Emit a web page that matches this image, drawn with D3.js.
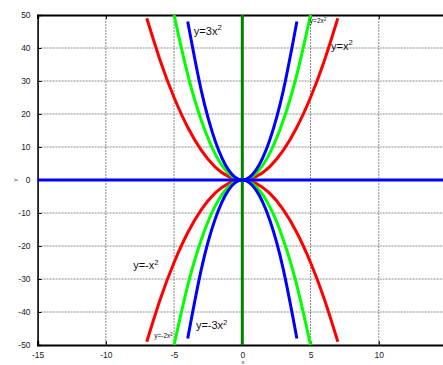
<!DOCTYPE html>
<html><head><meta charset="utf-8">
<script src="https://cdn.jsdelivr.net/npm/d3@7"></script>
<style>body{margin:0;background:#fff;}svg{display:block;}</style>
</head><body>
<svg id="c" width="443" height="365"></svg>
<script>
// ---- data ----
const xTicks = [-15, -10, -5, 0, 5, 10];
const yTicks = [-50, -40, -30, -20, -10, 0, 10, 20, 30, 40, 50];

const xRed   = [-7, -6, -5, -4, -3, -2, -1, 0, 1, 2, 3, 4, 5, 6, 7];
const yRedUp = [49, 36, 25, 16, 9, 4, 1, 0, 1, 4, 9, 16, 25, 36, 49];
const yRedDn = [-49, -36, -25, -16, -9, -4, -1, 0, -1, -4, -9, -16, -25, -36, -49];

const xGreen   = [-5, -4, -3, -2, -1, 0, 1, 2, 3, 4, 5];
const yGreenUp = [50, 32, 18, 8, 2, 0, 2, 8, 18, 32, 50];
const yGreenDn = [-50, -32, -18, -8, -2, 0, -2, -8, -18, -32, -50];

const xBlue   = [-4, -3, -2, -1, 0, 1, 2, 3, 4];
const yBlueUp = [48, 27, 12, 3, 0, 3, 12, 27, 48];
const yBlueDn = [-48, -27, -12, -3, 0, -3, -12, -27, -48];

const xAxisLineX = [-15, 15];
const xAxisLineY = [0, 0];
const yAxisLineX = [0, 0];
const yAxisLineY = [-50, 50];

const labels = [
  {t: "y=3x", sup: "2", x: -3.55, y: 44.0, size: 11},
  {t: "y=2x", sup: "2", x: 4.95, y: 47.5, size: 6.5},
  {t: "y=x",  sup: "2", x: 6.5,  y: 39.5, size: 11},
  {t: "y=-x", sup: "2", x: -8.0, y: -27.0, size: 11},
  {t: "y=-2x", sup: "2", x: -6.45, y: -48.0, size: 6.5},
  {t: "y=-3x", sup: "2", x: -3.4, y: -45.3, size: 11}
];

// ---- chart ----
const svg = d3.select("#c");
const x = d3.scaleLinear().domain([-15, 15]).range([37.6, 447]);
const y = d3.scaleLinear().domain([-50, 50]).range([345, 15]);
const font = "Liberation Sans, Arial, sans-serif";

// gridlines
const g = svg.append("g");
g.selectAll("line.gx").data(xTicks.filter(d => d > -15)).join("line")
  .attr("x1", d => x(d)).attr("x2", d => x(d))
  .attr("y1", y(50)).attr("y2", y(-50))
  .attr("stroke", "#8a8a8a").attr("stroke-width", 1).attr("stroke-dasharray", "2,1");
g.selectAll("line.gy").data(yTicks.filter(d => d > -50 && d < 50)).join("line")
  .attr("x1", x(-15)).attr("x2", x(15))
  .attr("y1", d => y(d)).attr("y2", d => y(d))
  .attr("stroke", "#8a8a8a").attr("stroke-width", 1).attr("stroke-dasharray", "2,1");

// axes
const fmt = d => String(d);
const axL = d3.axisLeft(y).tickValues(yTicks).tickSize(-4).tickPadding(7).tickFormat(fmt);
const axB = d3.axisBottom(x).tickValues(xTicks).tickSize(-4).tickPadding(7).tickFormat(fmt);
const axT = d3.axisTop(x).tickValues(xTicks).tickSize(-4).tickFormat("");
const gl = svg.append("g").attr("transform", `translate(${x(-15)},0)`).call(axL);
const gb = svg.append("g").attr("transform", `translate(0,${y(-50)})`).call(axB);
const gt = svg.append("g").attr("transform", `translate(0,${y(50)})`).call(axT);
[gl, gb, gt].forEach(a => {
  a.selectAll("text").attr("font-family", font).attr("font-size", 8.5).attr("fill", "#222");
  a.selectAll(".tick line").attr("stroke", "#000");
});
gl.select(".domain").attr("stroke", "#000").attr("stroke-width", 1.6);
gb.select(".domain").attr("stroke", "#000").attr("stroke-width", 2.2);
gt.select(".domain").attr("stroke", "#000").attr("stroke-width", 2.2);

// axis titles
svg.append("text").attr("x", 243).attr("y", 364).attr("text-anchor", "middle")
  .attr("font-family", font).attr("font-size", 6).attr("fill", "#333").text("x");
svg.append("text").attr("transform", `translate(17,${y(0)}) rotate(-90)`).attr("text-anchor", "middle")
  .attr("font-family", font).attr("font-size", 6).attr("fill", "#333").text("y");

// curves
const line = d3.line().x(d => x(d[0])).y(d => y(d[1])).curve(d3.curveNatural);
const straight = d3.line().x(d => x(d[0])).y(d => y(d[1]));
const zip = (a, b) => a.map((v, i) => [v, b[i]]);
const series = [
  {xs: xRed, ys: yRedUp, c: "#ff0000"},
  {xs: xRed, ys: yRedDn, c: "#ff0000"},
  {xs: xGreen, ys: yGreenUp, c: "#00ff00"},
  {xs: xGreen, ys: yGreenDn, c: "#00ff00"},
  {xs: xBlue, ys: yBlueUp, c: "#0000ff"},
  {xs: xBlue, ys: yBlueDn, c: "#0000ff"}
];
svg.append("g").selectAll("path").data(series).join("path")
  .attr("d", d => line(zip(d.xs, d.ys)))
  .attr("fill", "none").attr("stroke", d => d.c).attr("stroke-width", 3);

svg.append("path").attr("d", straight(zip(yAxisLineX, yAxisLineY)))
  .attr("stroke", "#008000").attr("stroke-width", 3).attr("fill", "none");
svg.append("path").attr("d", straight(zip(xAxisLineX, xAxisLineY)))
  .attr("stroke", "#0000ff").attr("stroke-width", 3).attr("fill", "none");

// labels
const lt = svg.append("g").selectAll("text").data(labels).join("text")
  .attr("x", d => x(d.x)).attr("y", d => y(d.y))
  .attr("font-family", font).attr("font-size", d => d.size).attr("fill", "#111");
lt.append("tspan").text(d => d.t);
lt.append("tspan").attr("font-size", d => d.size * 0.7).attr("dy", d => -d.size * 0.4).text(d => d.sup);
</script>
</body></html>
